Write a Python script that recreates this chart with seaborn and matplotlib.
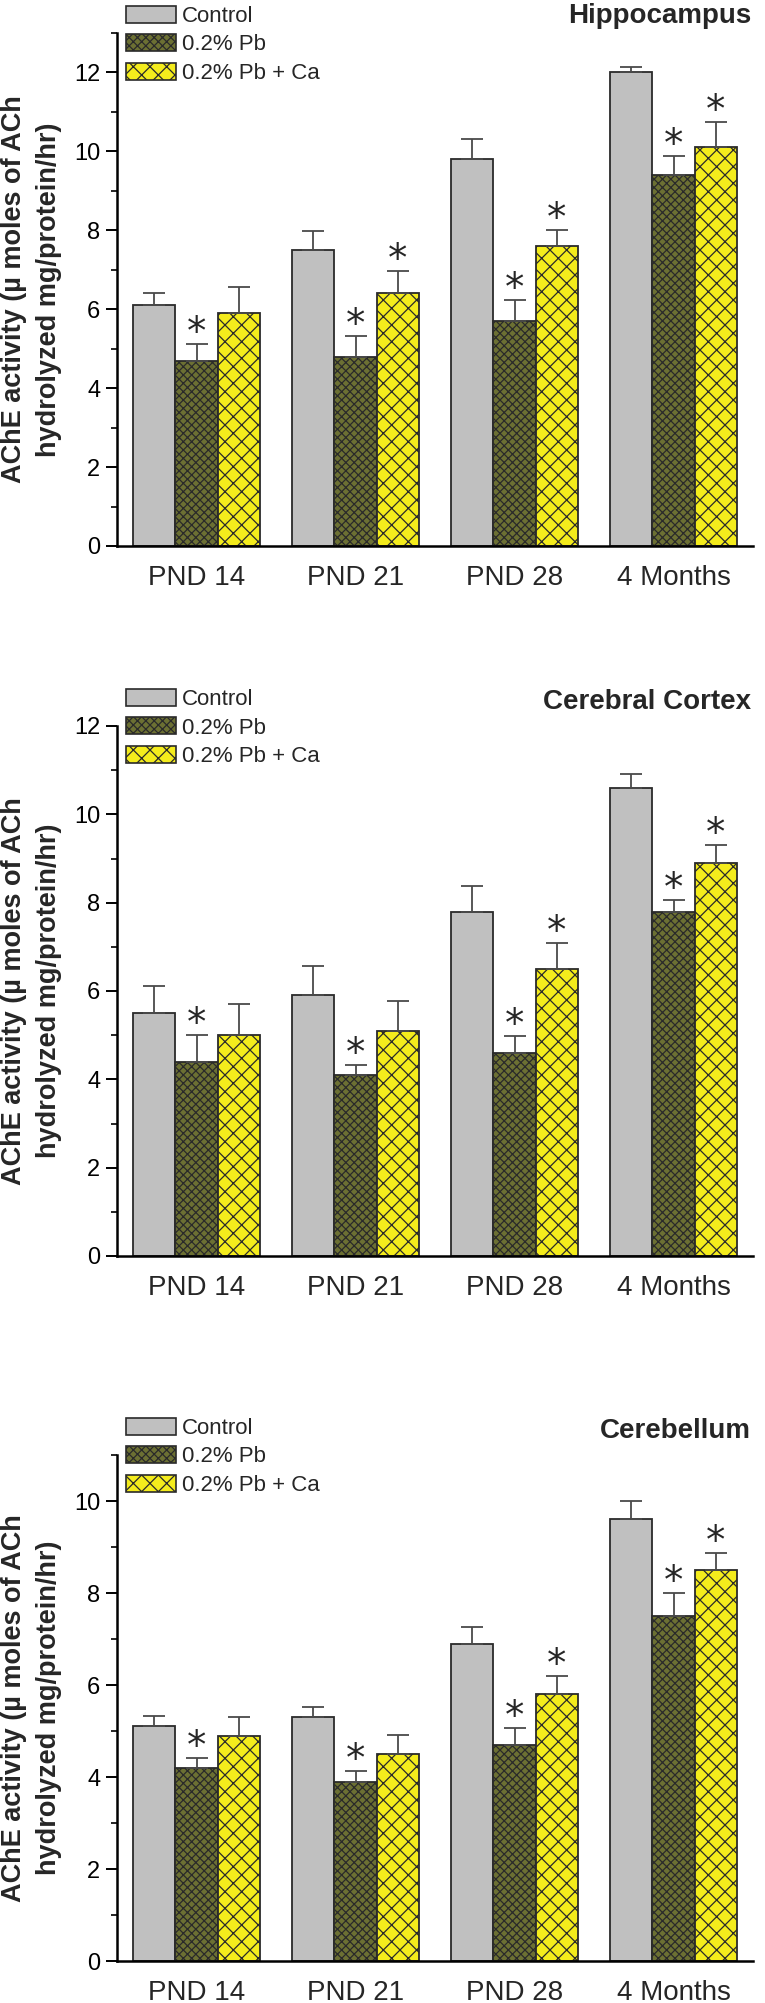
import numpy as np
import pandas as pd
import seaborn as sns
import matplotlib.pyplot as plt
from matplotlib.patches import Patch
from matplotlib.ticker import MultipleLocator

# ---- data ----
ages = ["PND 14", "PND 21", "PND 28", "4 Months"]
groups = ["Control", "0.2% Pb", "0.2% Pb + Ca"]

# Hippocampus
hip_control = [6.1, 7.5, 9.8, 12.0]
hip_control_err = [0.30, 0.48, 0.51, 0.13]
hip_pb = [4.7, 4.8, 5.7, 9.4]
hip_pb_err = [0.41, 0.53, 0.53, 0.48]
hip_pbca = [5.9, 6.4, 7.6, 10.1]
hip_pbca_err = [0.66, 0.57, 0.40, 0.64]
hip_star_pb = [1, 1, 1, 1]
hip_star_pbca = [0, 1, 1, 1]

# Cerebral cortex
ctx_control = [5.5, 5.9, 7.8, 10.6]
ctx_control_err = [0.61, 0.67, 0.57, 0.32]
ctx_pb = [4.4, 4.1, 4.6, 7.8]
ctx_pb_err = [0.60, 0.23, 0.38, 0.27]
ctx_pbca = [5.0, 5.1, 6.5, 8.9]
ctx_pbca_err = [0.70, 0.68, 0.59, 0.41]
ctx_star_pb = [1, 1, 1, 1]
ctx_star_pbca = [0, 0, 1, 1]

# Cerebellum
cbl_control = [5.1, 5.3, 6.9, 9.6]
cbl_control_err = [0.23, 0.23, 0.37, 0.41]
cbl_pb = [4.2, 3.9, 4.7, 7.5]
cbl_pb_err = [0.22, 0.24, 0.36, 0.49]
cbl_pbca = [4.9, 4.5, 5.8, 8.5]
cbl_pbca_err = [0.40, 0.42, 0.39, 0.37]
cbl_star_pb = [1, 1, 1, 1]
cbl_star_pbca = [0, 0, 1, 1]

# ---- styling ----
sns.set_theme(style="ticks")
plt.rcParams['font.family'] = ['Liberation Sans', 'DejaVu Sans']
plt.rcParams['hatch.linewidth'] = 0.9
plt.rcParams['hatch.color'] = '#111111'

colors = ["#c0c0c0", "#6c7033", "#f4ec1c"]
hatches = [None, "xxxx", "xx"]
edge = "#2a2a2a"

W, H = 765, 2003
fig = plt.figure(figsize=(W / 100, H / 100), dpi=100)

# (title, means, errs, stars, ymax, axes top px, axes bottom px, legend top px, title baseline px)
panels = [
    ("Hippocampus", [hip_control, hip_pb, hip_pbca],
     [hip_control_err, hip_pb_err, hip_pbca_err], [None, hip_star_pb, hip_star_pbca],
     13, 33, 546, 5.5, 23),
    ("Cerebral Cortex", [ctx_control, ctx_pb, ctx_pbca],
     [ctx_control_err, ctx_pb_err, ctx_pbca_err], [None, ctx_star_pb, ctx_star_pbca],
     12, 726, 1256, 688.5, 709),
    ("Cerebellum", [cbl_control, cbl_pb, cbl_pbca],
     [cbl_control_err, cbl_pb_err, cbl_pbca_err], [None, cbl_star_pb, cbl_star_pbca],
     11, 1455, 1961, 1417.5, 1438),
]

left_px, right_px = 117, 753

for title, means, errs, stars, ymax, top, bottom, leg_top, title_y in panels:
    ax = fig.add_axes([left_px / W, 1 - bottom / H, (right_px - left_px) / W, (bottom - top) / H])

    df = pd.DataFrame({
        "age": ages * 3,
        "group": np.repeat(groups, len(ages)),
        "value": np.concatenate(means),
    })
    sns.barplot(data=df, x="age", y="value", hue="group", order=ages, hue_order=groups,
                palette=colors, saturation=1, width=0.8, errorbar=None, legend=False,
                edgecolor=edge, linewidth=1.3, ax=ax)

    for container, hatch, m, e, st in zip(ax.containers, hatches, means, errs, stars):
        xs = []
        for bar in container:
            if hatch:
                bar.set_hatch(hatch)
            xs.append(bar.get_x() + bar.get_width() / 2)
        ax.errorbar(xs, m, yerr=[np.zeros(len(e)), e], fmt='none', ecolor='#4a4a4a',
                    elinewidth=1.3, capsize=8, capthick=1.3, zorder=3)
        if st is not None:
            for x, v, ee, s in zip(xs, m, e, st):
                if s:
                    ax.annotate("*", (x, v + ee), xytext=(0, 0), textcoords='offset points',
                                ha='center', va='baseline', fontsize=28, family='DejaVu Sans')

    ax.set_xlim(-0.5, 3.5)
    ax.set_ylim(0, ymax)
    ax.yaxis.set_major_locator(MultipleLocator(2))
    ax.yaxis.set_minor_locator(MultipleLocator(1))
    ax.tick_params(axis='y', which='major', length=8, width=1.4, labelsize=17, pad=4, colors='black')
    ax.tick_params(axis='y', which='minor', length=4, width=1.4)
    ax.tick_params(axis='x', length=0, labelsize=20, pad=14)
    ax.set_xlabel("")
    ax.set_ylabel("AChE activity (µ moles of ACh\nhydrolyzed mg/protein/hr)",
                  fontsize=19.5, fontweight='bold', linespacing=1.45)
    ax.yaxis.set_label_coords(-0.087, 0.5)
    sns.despine(ax=ax)
    for sp in ("left", "bottom"):
        ax.spines[sp].set_linewidth(1.8)
        ax.spines[sp].set_color("black")

    handles = [Patch(facecolor=c, edgecolor=edge, hatch=h, linewidth=1.2)
               for c, h in zip(colors, hatches)]
    ax.legend(handles, groups, loc='upper left', bbox_to_anchor=(126 / W, 1 - leg_top / H),
              bbox_transform=fig.transFigure, frameon=False, fontsize=16,
              handlelength=2.25, handleheight=0.8, handletextpad=0.27,
              labelspacing=0.34, borderpad=0, borderaxespad=0)

    fig.text(751 / W, 1 - title_y / H, title, ha='right', va='baseline',
             fontsize=20, fontweight='bold')

fig.savefig("out.png", dpi=100)
